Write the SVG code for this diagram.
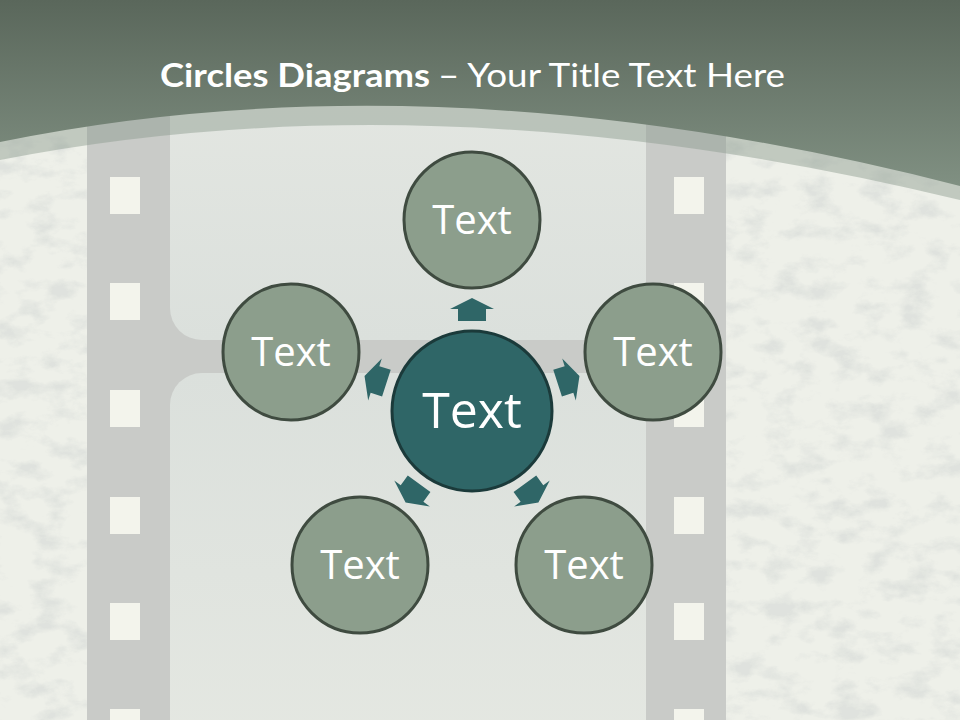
<svg xmlns="http://www.w3.org/2000/svg" width="960" height="720" viewBox="0 0 960 720">
<style>
.hole{fill:#f3f4ec}
.outer circle{fill:#8c9e8c;stroke:#3f4b40;stroke-width:3}
.outer text{fill:#ffffff;font-family:'Open Sans','DejaVu Sans',sans-serif;font-size:40px;text-anchor:middle}
.center circle{fill:#2f6667;stroke:#1b3a3a;stroke-width:3}
.center text{fill:#ffffff;font-family:'Open Sans','DejaVu Sans',sans-serif;font-size:50px;text-anchor:middle}
.arrow{fill:#2f6667}
.title{fill:#ffffff;font-family:Lato,'Open Sans','Liberation Sans',sans-serif;font-size:33px}
</style>
<defs>
<linearGradient id="hdr" x1="0" y1="0" x2="0" y2="1">
<stop offset="0" stop-color="#5a675b"/>
<stop offset="1" stop-color="#809082"/>
</linearGradient>
<linearGradient id="frame" x1="0" y1="0" x2="0" y2="1">
<stop offset="0" stop-color="#e4e7e2"/>
<stop offset="1" stop-color="#dbe0dc"/>
</linearGradient>
<linearGradient id="frame2" x1="0" y1="0" x2="0" y2="1">
<stop offset="0" stop-color="#dbe0dc"/>
<stop offset="1" stop-color="#e5e8e2"/>
</linearGradient>
<filter id="grunge" x="0" y="0" width="100%" height="100%">
<feTurbulence type="fractalNoise" baseFrequency="0.03 0.05" numOctaves="5" seed="11"/>
<feColorMatrix type="matrix" values="0 0 0 0 0.66  0 0 0 0 0.69  0 0 0 0 0.67  0 0 0 -3.5 1.85"/>
</filter>
<path id="arr" d="M-14,-90 L14,-90 L14,-102 L22,-102 L0,-113 L-22,-102 L-14,-102 Z"/>
</defs>
<rect x="0" y="0" width="960" height="720" fill="#eef0e9"/>
<rect x="0" y="0" width="960" height="720" filter="url(#grunge)" opacity="0.55"/>
<rect x="87" y="0" width="639" height="720" fill="#c9cbc8"/>
<rect x="170" y="60" width="476" height="280" rx="32" fill="url(#frame)"/>
<rect x="170" y="373" width="476" height="400" rx="32" fill="url(#frame2)"/>
<g id="holes">
<rect class="hole" x="110" y="177" width="30" height="37"/>
<rect class="hole" x="110" y="283" width="30" height="37"/>
<rect class="hole" x="110" y="390" width="30" height="37"/>
<rect class="hole" x="110" y="497" width="30" height="37"/>
<rect class="hole" x="110" y="603" width="30" height="37"/>
<rect class="hole" x="110" y="709" width="30" height="37"/>
<rect class="hole" x="674" y="177" width="30" height="37"/>
<rect class="hole" x="674" y="283" width="30" height="37"/>
<rect class="hole" x="674" y="390" width="30" height="37"/>
<rect class="hole" x="674" y="497" width="30" height="37"/>
<rect class="hole" x="674" y="603" width="30" height="37"/>
<rect class="hole" x="674" y="709" width="30" height="37"/>
</g>
<path d="M0,0 H960 V200 Q440,74 0,160 Z" fill="#8a9a8c" opacity="0.45"/>
<path d="M0,0 H960 V186 Q440,52 0,142 Z" fill="url(#hdr)"/>
<text class="title" x="160" y="87" font-weight="bold" textLength="270" lengthAdjust="spacingAndGlyphs">Circles Diagrams</text>
<text class="title" x="438" y="87" textLength="347" lengthAdjust="spacingAndGlyphs">– Your Title Text Here</text>
<g id="connectors">
<use href="#arr" class="arrow" transform="translate(472,411)"/>
<use href="#arr" class="arrow" transform="translate(472,411) rotate(72)"/>
<use href="#arr" class="arrow" transform="translate(472,411) rotate(144)"/>
<use href="#arr" class="arrow" transform="translate(472,411) rotate(216)"/>
<use href="#arr" class="arrow" transform="translate(472,411) rotate(288)"/>
</g>
<g id="node-top" class="outer"><circle cx="472" cy="220" r="68"/><text x="472" y="234">Text</text></g>
<g id="node-right" class="outer"><circle cx="653" cy="352" r="68"/><text x="653" y="366">Text</text></g>
<g id="node-bottom-right" class="outer"><circle cx="584" cy="565" r="68"/><text x="584" y="579">Text</text></g>
<g id="node-bottom-left" class="outer"><circle cx="360" cy="565" r="68"/><text x="360" y="579">Text</text></g>
<g id="node-left" class="outer"><circle cx="291" cy="352" r="68"/><text x="291" y="366">Text</text></g>
<g id="node-center" class="center"><circle cx="472" cy="411" r="80"/><text x="472" y="428">Text</text></g>
</svg>
